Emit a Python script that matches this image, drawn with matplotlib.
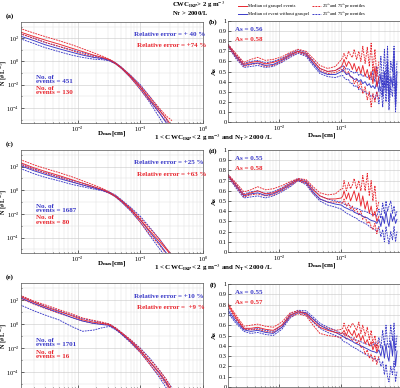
import numpy as np
import matplotlib
matplotlib.use("Agg")
import matplotlib.pyplot as plt
from matplotlib.ticker import FixedLocator, LogLocator, NullFormatter

plt.rcParams['font.family'] = ['Liberation Serif', 'DejaVu Serif']
plt.rcParams['mathtext.fontset'] = 'stix'
plt.rcParams['font.size'] = 5

RED = '#e8262e'
BLUE = '#3a3ac8'

# ---- size distributions (log10 N), left panels ----
d_psd = [0.0012, 0.002, 0.003, 0.005, 0.008, 0.012, 0.018, 0.025, 0.032,
         0.04, 0.05, 0.07, 0.1, 0.14, 0.2, 0.26, 0.32]

a_red_med = [2.55, 2.15, 1.85, 1.5, 1.15, 0.85, 0.55, 0.35, 0.15, -0.15, -0.55, -1.3, -2.2, -3.2, -4.2, -4.9, -5.6]
a_red_p75 = [2.85, 2.45, 2.15, 1.8, 1.45, 1.1, 0.75, 0.45, 0.2, -0.1, -0.5, -1.2, -2.1, -3.0, -4.0, -4.7, -5.1]
a_red_p25 = [2.4, 2.0, 1.65, 1.3, 0.95, 0.65, 0.4, 0.25, 0.1, -0.2, -0.6, -1.4, -2.4, -3.4, -4.4, -5.2, -5.9]
a_blue_med = [2.2, 1.8, 1.45, 1.1, 0.8, 0.55, 0.35, 0.25, 0.1, -0.15, -0.55, -1.3, -2.2, -3.3, -4.4, -5.3, -6.0]
a_blue_p75 = [2.4, 2.0, 1.65, 1.3, 1.0, 0.75, 0.5, 0.3, 0.15, -0.1, -0.5, -1.2, -2.0, -3.0, -4.1, -5.0, -5.8]
a_blue_p25 = [1.97, 1.55, 1.2, 0.85, 0.55, 0.35, 0.2, 0.15, 0.05, -0.2, -0.6, -1.4, -2.4, -3.5, -4.8, -5.8, -6.5]

c_red_med = [2.35, 1.9, 1.6, 1.25, 0.9, 0.6, 0.3, 0.05, -0.2, -0.5, -0.9, -1.6, -2.5, -3.4, -4.3, -5.0, -5.6]
c_red_p75 = [2.6, 2.15, 1.85, 1.5, 1.15, 0.8, 0.45, 0.15, -0.15, -0.45, -0.85, -1.5, -2.35, -3.2, -4.1, -4.9, -5.5]
c_red_p25 = [2.2, 1.75, 1.45, 1.1, 0.75, 0.45, 0.2, 0.0, -0.25, -0.55, -0.95, -1.7, -2.7, -3.7, -4.6, -5.4, -6.0]
c_blue_med = [2.1, 1.65, 1.35, 1.0, 0.7, 0.45, 0.2, 0.0, -0.2, -0.5, -0.9, -1.6, -2.5, -3.5, -4.5, -5.3, -6.0]
c_blue_p75 = [2.25, 1.8, 1.5, 1.15, 0.85, 0.6, 0.3, 0.05, -0.15, -0.4, -0.8, -1.45, -2.2, -3.1, -4.1, -4.9, -5.5]
c_blue_p25 = [1.85, 1.4, 1.1, 0.8, 0.5, 0.3, 0.1, -0.05, -0.25, -0.55, -1.0, -1.75, -2.7, -3.8, -4.9, -5.7, -6.3]

e_red_med = [2.3, 1.8, 1.45, 1.05, 0.7, 0.35, 0.15, 0.05, -0.05, -0.35, -0.75, -1.4, -2.2, -3.1, -4.0, -4.8, -5.6]
e_red_p75 = [2.4, 1.9, 1.6, 1.2, 0.85, 0.5, 0.3, 0.15, 0.0, -0.3, -0.7, -1.3, -2.05, -2.9, -3.8, -4.6, -5.4]
e_red_p25 = [2.15, 1.65, 1.3, 0.9, 0.55, 0.25, 0.05, 0.0, -0.1, -0.4, -0.8, -1.5, -2.35, -3.3, -4.3, -5.0, -5.8]
e_blue_med = [2.2, 1.7, 1.35, 0.95, 0.55, 0.25, 0.05, -0.05, -0.1, -0.4, -0.8, -1.45, -2.2, -3.1, -4.1, -4.9, -5.6]
e_blue_p75 = [2.35, 1.85, 1.5, 1.1, 0.75, 0.45, 0.25, 0.1, 0.0, -0.3, -0.7, -1.3, -2.0, -2.8, -3.8, -4.6, -5.3]
e_blue_p25 = [1.6, 1.1, 0.75, 0.35, -0.2, -0.6, -0.5, -0.3, -0.2, -0.45, -0.85, -1.55, -2.35, -3.3, -4.4, -5.3, -6.0]

# ---- As, right panels ----
d_as = [0.0015, 0.002, 0.0027, 0.0035, 0.0045, 0.006, 0.008, 0.011, 0.015, 0.02,
        0.027, 0.035, 0.045, 0.06, 0.08, 0.1,
        0.105, 0.11, 0.12, 0.13, 0.14, 0.15, 0.16, 0.175, 0.19, 0.205,
        0.22, 0.24, 0.26, 0.28, 0.3, 0.32, 0.345, 0.37, 0.4,
        0.43, 0.46, 0.49, 0.52, 0.55, 0.58, 0.62, 0.66, 0.7, 0.74, 0.78]

b_red_med = [0.76, 0.66, 0.57, 0.59, 0.60, 0.575, 0.59, 0.62, 0.67, 0.70, 0.68, 0.60, 0.53, 0.50, 0.51, 0.55,
             0.58, 0.62, 0.55, 0.6, 0.57, 0.52, 0.58, 0.5, 0.55, 0.48, 0.56, 0.45, 0.52, 0.42, 0.5, 0.38, 0.55, 0.35, 0.45]
b_red_p75 = [0.77, 0.68, 0.59, 0.62, 0.64, 0.61, 0.62, 0.645, 0.69, 0.72, 0.70, 0.63, 0.56, 0.53, 0.55, 0.62,
             0.64, 0.68, 0.62, 0.7, 0.66, 0.64, 0.72, 0.62, 0.7, 0.6, 0.75, 0.58, 0.74, 0.55, 0.78, 0.5, 0.72, 0.45, 0.6]
b_red_p25 = [0.75, 0.64, 0.55, 0.57, 0.58, 0.55, 0.56, 0.60, 0.65, 0.69, 0.66, 0.58, 0.51, 0.48, 0.49, 0.52,
             0.5, 0.55, 0.47, 0.5, 0.44, 0.45, 0.38, 0.42, 0.33, 0.4, 0.28, 0.35, 0.22, 0.3, 0.15, 0.28, 0.2, 0.3, 0.22]
b_blue_med = [0.76, 0.65, 0.56, 0.575, 0.585, 0.56, 0.57, 0.61, 0.66, 0.70, 0.67, 0.58, 0.50, 0.47, 0.47, 0.50,
              0.52, 0.5, 0.47, 0.48, 0.45, 0.44, 0.42, 0.43, 0.4, 0.42, 0.38, 0.4, 0.36, 0.38, 0.34, 0.36, 0.33, 0.4, 0.3,
              0.48, 0.25, 0.5, 0.3, 0.6, 0.2, 0.45, 0.35, 0.7, 0.15, 0.5]
b_blue_p75 = [0.77, 0.67, 0.58, 0.60, 0.61, 0.585, 0.60, 0.63, 0.68, 0.715, 0.69, 0.61, 0.53, 0.50, 0.51, 0.54,
              0.56, 0.55, 0.52, 0.53, 0.5, 0.5, 0.48, 0.5, 0.46, 0.48, 0.45, 0.47, 0.44, 0.46, 0.42, 0.5, 0.4, 0.55, 0.38,
              0.65, 0.35, 0.72, 0.4, 0.75, 0.3, 0.6, 0.5, 0.75, 0.3, 0.6]
b_blue_p25 = [0.75, 0.63, 0.54, 0.55, 0.56, 0.54, 0.55, 0.59, 0.64, 0.68, 0.65, 0.56, 0.48, 0.45, 0.44, 0.46,
              0.46, 0.44, 0.42, 0.42, 0.38, 0.38, 0.35, 0.36, 0.32, 0.33, 0.3, 0.3, 0.28, 0.28, 0.25, 0.27, 0.22, 0.3, 0.18,
              0.35, 0.15, 0.4, 0.2, 0.45, 0.12, 0.35, 0.25, 0.5, 0.1, 0.4]

dd_red_med = [0.75, 0.66, 0.56, 0.58, 0.60, 0.57, 0.58, 0.62, 0.67, 0.71, 0.69, 0.61, 0.55, 0.52, 0.52, 0.53,
              0.55, 0.6, 0.52, 0.58, 0.5, 0.55, 0.6, 0.5, 0.58, 0.45, 0.55, 0.42, 0.5, 0.38, 0.45, 0.35, 0.4, 0.3, 0.35]
dd_red_p75 = [0.76, 0.68, 0.59, 0.61, 0.64, 0.61, 0.62, 0.65, 0.69, 0.72, 0.71, 0.64, 0.58, 0.56, 0.57, 0.62,
              0.62, 0.7, 0.6, 0.68, 0.62, 0.66, 0.72, 0.62, 0.7, 0.6, 0.75, 0.6, 0.77, 0.55, 0.7, 0.5, 0.65, 0.4, 0.5]
dd_red_p25 = [0.74, 0.64, 0.54, 0.56, 0.57, 0.55, 0.56, 0.60, 0.65, 0.70, 0.67, 0.58, 0.52, 0.49, 0.49, 0.48,
              0.48, 0.52, 0.45, 0.48, 0.42, 0.45, 0.4, 0.42, 0.36, 0.4, 0.32, 0.35, 0.28, 0.3, 0.25, 0.22, 0.28, 0.18, 0.25]
dd_blue_med = [0.75, 0.65, 0.55, 0.57, 0.58, 0.555, 0.57, 0.61, 0.66, 0.71, 0.68, 0.59, 0.52, 0.49, 0.47, 0.46,
               0.45, 0.44, 0.43, 0.42, 0.41, 0.41, 0.39, 0.38, 0.37, 0.365, 0.35, 0.34, 0.335, 0.32, 0.31, 0.305, 0.3, 0.28, 0.32,
               0.25, 0.35, 0.28, 0.4, 0.3, 0.25, 0.38, 0.3, 0.35, 0.28, 0.32]
dd_blue_p75 = [0.76, 0.67, 0.57, 0.59, 0.60, 0.575, 0.59, 0.63, 0.68, 0.72, 0.70, 0.62, 0.55, 0.52, 0.50, 0.49,
               0.48, 0.47, 0.46, 0.46, 0.45, 0.44, 0.43, 0.43, 0.42, 0.41, 0.4, 0.4, 0.39, 0.38, 0.37, 0.36, 0.37, 0.35, 0.42,
               0.33, 0.48, 0.38, 0.5, 0.4, 0.45, 0.5, 0.38, 0.45, 0.35, 0.4]
dd_blue_p25 = [0.74, 0.63, 0.53, 0.54, 0.55, 0.53, 0.55, 0.59, 0.64, 0.70, 0.66, 0.57, 0.50, 0.46, 0.44, 0.42,
               0.41, 0.4, 0.38, 0.37, 0.36, 0.35, 0.34, 0.33, 0.31, 0.3, 0.29, 0.28, 0.27, 0.25, 0.24, 0.23, 0.22, 0.2, 0.25,
               0.15, 0.22, 0.1, 0.25, 0.15, 0.08, 0.2, 0.12, 0.25, 0.1, 0.2]

f_red_med = [0.8, 0.68, 0.57, 0.57, 0.58, 0.56, 0.55, 0.6, 0.7, 0.73, 0.71, 0.64, 0.58, 0.55, 0.53, 0.52,
             0.53, 0.55, 0.5, 0.56, 0.52, 0.5, 0.55, 0.48, 0.52, 0.45, 0.5, 0.42, 0.46, 0.4, 0.44, 0.36, 0.42, 0.34, 0.4]
f_red_p75 = [0.81, 0.7, 0.59, 0.6, 0.61, 0.59, 0.58, 0.63, 0.72, 0.74, 0.72, 0.66, 0.6, 0.57, 0.55, 0.56,
             0.57, 0.62, 0.55, 0.6, 0.58, 0.62, 0.6, 0.55, 0.63, 0.52, 0.6, 0.5, 0.58, 0.46, 0.55, 0.42, 0.5, 0.38, 0.45]
f_red_p25 = [0.79, 0.66, 0.56, 0.555, 0.56, 0.54, 0.53, 0.58, 0.68, 0.71, 0.69, 0.6, 0.52, 0.5, 0.49, 0.48,
             0.5, 0.52, 0.46, 0.5, 0.47, 0.45, 0.48, 0.42, 0.45, 0.38, 0.4, 0.32, 0.36, 0.28, 0.32, 0.25, 0.3, 0.22, 0.3]
f_blue_med = [0.74, 0.64, 0.555, 0.54, 0.55, 0.53, 0.52, 0.58, 0.69, 0.73, 0.72, 0.66, 0.6, 0.56, 0.53, 0.5,
              0.49, 0.485, 0.47, 0.465, 0.45, 0.445, 0.43, 0.42, 0.41, 0.4, 0.39, 0.38, 0.37, 0.36, 0.35, 0.345, 0.34, 0.33, 0.36,
              0.3, 0.4, 0.28, 0.42, 0.3, 0.25, 0.45, 0.3, 0.5, 0.2, 0.35]
f_blue_p75 = [0.76, 0.66, 0.57, 0.56, 0.57, 0.55, 0.54, 0.6, 0.71, 0.745, 0.74, 0.68, 0.62, 0.58, 0.55, 0.52,
              0.52, 0.515, 0.5, 0.495, 0.48, 0.475, 0.46, 0.455, 0.445, 0.44, 0.43, 0.42, 0.415, 0.41, 0.4, 0.41, 0.43, 0.4, 0.48,
              0.38, 0.55, 0.4, 0.6, 0.42, 0.38, 0.6, 0.45, 0.62, 0.35, 0.5]
f_blue_p25 = [0.72, 0.62, 0.54, 0.52, 0.53, 0.51, 0.5, 0.56, 0.67, 0.72, 0.7, 0.63, 0.57, 0.53, 0.5, 0.47,
              0.45, 0.44, 0.43, 0.42, 0.4, 0.395, 0.38, 0.37, 0.355, 0.345, 0.33, 0.32, 0.31, 0.3, 0.29, 0.28, 0.27, 0.25, 0.28,
              0.2, 0.25, 0.12, 0.22, 0.1, 0.05, 0.2, 0.12, 0.25, 0.05, 0.15]

as_ticks = [0, 0.1, 0.2, 0.3, 0.4, 0.5, 0.6, 0.7, 0.8, 0.9, 1]
as_ticklabels = ['0', '0.1', '0.2', '0.3', '0.4', '0.5', '0.6', '0.7', '0.8', '0.9', '1']
rel_err = [('+ 40 %', '+74 %'), ('+25 %', '+63 %'), ('+10 %', ' +9 %')]
n_events = [('451', '130'), ('1687', '80'), ('1701', '16')]
as_vals = [('0.56', '0.58'), ('0.55', '0.58'), ('0.55', '0.57')]
row_titles = [r'1 < CWC$_{\mathbf{IKP}}$< 2 g m$^{-3}$ and N$_{\mathbf{T}}$> 2000 /L',
              r'1 < CWC$_{\mathbf{IKP}}$< 2 g m$^{-3}$ and N$_{\mathbf{T}}$< 2000 /L']

W, H = 400., 388.
fig = plt.figure(figsize=(4.0, 3.88), dpi=100)


def px_axes(l, r, t, b):
    return fig.add_axes([l / W, 1 - b / H, (r - l) / W, (b - t) / H])


def style(ax):
    ax.set_xscale('log')
    ax.tick_params(which='both', direction='in', labelsize=4.6, pad=1, length=2, width=0.4)
    ax.tick_params(which='minor', length=1)
    ax.grid(True, which='major', color='#c8c8c8', lw=0.4)
    ax.grid(True, which='minor', color='#dddddd', lw=0.3)
    for s in ax.spines.values():
        s.set_linewidth(0.5)
        s.set_color('#555555')


def dash(ls):
    return (2, 1) if ls == '--' else (None, None)


left_rows = [(a_red_med, a_red_p75, a_red_p25, a_blue_med, a_blue_p75, a_blue_p25),
             (c_red_med, c_red_p75, c_red_p25, c_blue_med, c_blue_p75, c_blue_p25),
             (e_red_med, e_red_p75, e_red_p25, e_blue_med, e_blue_p75, e_blue_p25)]
right_rows = [(b_red_med, b_red_p75, b_red_p25, b_blue_med, b_blue_p75, b_blue_p25),
              (dd_red_med, dd_red_p75, dd_red_p25, dd_blue_med, dd_blue_p75, dd_blue_p25),
              (f_red_med, f_red_p75, f_red_p25, f_blue_med, f_blue_p75, f_blue_p25)]

left_box = [(21, 203, 22, 123), (21, 203, 150, 253), (21, 203, 283, 388)]
right_box = [(228, 405, 21, 122), (228, 405, 150, 252), (228, 405, 284, 387)]
letters = [('(a)', '(b)'), ('(c)', '(d)'), ('(e)', '(f)')]

for i in range(3):
    # size distribution
    ax = px_axes(*left_box[i])
    style(ax)
    ax.set_yscale('log')
    rm, r75, r25, bm, b75, b25 = left_rows[i]
    x = np.array(d_psd)
    for vals, c, ls in [(b75, BLUE, '--'), (b25, BLUE, '--'), (r75, RED, '--'), (r25, RED, '--'),
                        (bm, BLUE, '-'), (rm, RED, '-')]:
        ax.plot(x, 10 ** np.array(vals), color=c, ls=ls, lw=0.65, dashes=dash(ls))
    ax.set_xlim(1.25e-3, 1.0)
    ax.set_ylim(10 ** -5.3, 10 ** 3.4)
    ax.yaxis.set_major_locator(FixedLocator([1e-4, 1e-2, 1, 1e2]))
    ax.yaxis.set_minor_locator(FixedLocator([1e-5, 1e-3, 1e-1, 1e1, 1e3]))
    ax.yaxis.set_minor_formatter(NullFormatter())
    ax.xaxis.set_major_locator(FixedLocator([1e-2, 1e-1, 1]))
    ax.xaxis.set_minor_locator(LogLocator(base=10, subs=np.arange(2, 10)))
    ax.xaxis.set_minor_formatter(NullFormatter())
    lp = left_box[i]
    fig.text(4 / W, 1 - (lp[2] + lp[3]) / 2 / H, r'N [# L$^{-1}$]', fontsize=4.5, fontweight='bold',
             rotation=90, ha='center', va='center')
    fig.text(10 / W, 1 - (lp[2] - 6) / H, letters[i][0], fontsize=5, fontweight='bold', ha='center', va='center')
    ax.text(0.62, 0.875, 'Relative error = ' + rel_err[i][0], transform=ax.transAxes, color=BLUE,
            fontsize=5, fontweight='bold', ha='left', va='center')
    ax.text(0.64, 0.765, 'Relative error = ' + rel_err[i][1], transform=ax.transAxes, color=RED,
            fontsize=5, fontweight='bold', ha='left', va='center')
    ax.text(0.08, 0.43, 'No. of\nevents = ' + n_events[i][0], transform=ax.transAxes, color=BLUE,
            fontsize=5, fontweight='bold', ha='left', va='center', linespacing=0.8)
    ax.text(0.08, 0.32, 'No. of\nevents = ' + n_events[i][1], transform=ax.transAxes, color=RED,
            fontsize=5, fontweight='bold', ha='left', va='center', linespacing=0.8)
    if i < 2:
        fig.text(112 / W, 1 - (lp[3] + 11) / H, r'D$_{\mathbf{max}}$[cm]', fontsize=5,
                 fontweight='bold', ha='center', va='center')
    else:
        ax.set_xticklabels([])

    # As
    ax2 = px_axes(*right_box[i])
    style(ax2)
    rm, r75, r25, bm, b75, b25 = right_rows[i]
    for vals, c, ls in [(b75, BLUE, '--'), (b25, BLUE, '--'), (r75, RED, '--'), (r25, RED, '--'),
                        (bm, BLUE, '-'), (rm, RED, '-')]:
        ax2.plot(d_as[:len(vals)], vals, color=c, ls=ls, lw=0.65, dashes=dash(ls))
    ax2.set_xlim(1.5e-3, 1.05)
    ax2.set_ylim(0, 1)
    ax2.yaxis.set_major_locator(FixedLocator(as_ticks))
    ax2.set_yticklabels(as_ticklabels)
    ax2.xaxis.set_major_locator(FixedLocator([1e-2, 1e-1]))
    ax2.xaxis.set_minor_locator(LogLocator(base=10, subs=np.arange(2, 10)))
    ax2.xaxis.set_minor_formatter(NullFormatter())
    ax2.set_ylabel('As', fontsize=5, fontweight='bold', labelpad=1)
    rp = right_box[i]
    fig.text(213 / W, 1 - (rp[2] + 1) / H, letters[i][1], fontsize=5, fontweight='bold', ha='center', va='center')
    ax2.text(0.04, 0.92, 'As = ' + as_vals[i][0], transform=ax2.transAxes, color=BLUE,
             fontsize=5, fontweight='bold', ha='left', va='center')
    ax2.text(0.04, 0.82, 'As = ' + as_vals[i][1], transform=ax2.transAxes, color=RED,
             fontsize=5, fontweight='bold', ha='left', va='center')
    if i < 2:
        fig.text(322 / W, 1 - (rp[3] + 14) / H, r'D$_{\mathbf{max}}$[cm]', fontsize=5,
                 fontweight='bold', ha='center', va='center')
    else:
        ax2.set_xticklabels([])

# row headers
fig.text(172 / W, 1 - 4.5 / H, r'CWC$_{\mathbf{IKP}}$> 2 g m$^{-3}$', fontsize=4.8, fontweight='bold', ha='left', va='center')
fig.text(172 / W, 1 - 13.5 / H, r'N$_{\mathbf{T}}$ > 2000/L', fontsize=4.8, fontweight='bold', ha='left', va='center')
fig.text(213 / W, 1 - 138 / H, row_titles[0], fontsize=5, fontweight='bold', ha='center', va='center')
fig.text(213 / W, 1 - 268 / H, row_titles[1], fontsize=5, fontweight='bold', ha='center', va='center')

# legend
leg_items = [(238, 6, RED, '-', 'Median of graupel events'),
             (238, 14, BLUE, '-', 'Median of event without graupel'),
             (312, 6, RED, '--', r'25$^{th}$and 75$^{th}$percentiles'),
             (312, 14, BLUE, '--', r'25$^{th}$and 75$^{th}$percentiles')]
for lx, ly, c, ls, lab in leg_items:
    fig.add_artist(plt.Line2D([lx / W, (lx + 9) / W], [1 - ly / H, 1 - ly / H], color=c, ls=ls, lw=0.7,
                              dashes=dash(ls)))
    fig.text((lx + 10) / W, 1 - ly / H, lab, fontsize=3.3, ha='left', va='center')

fig.savefig('out.png', dpi=100)
